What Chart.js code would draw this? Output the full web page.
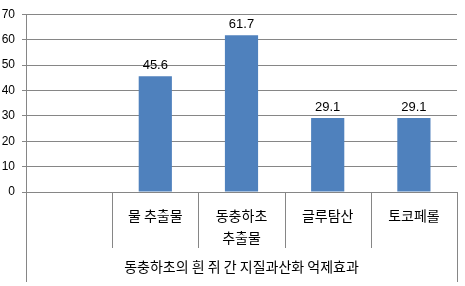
<!DOCTYPE html>
<html>
<head>
<meta charset="utf-8">
<script src="https://cdn.jsdelivr.net/npm/chart.js@4.4.0/dist/chart.umd.min.js"></script>
<style>
  html, body { margin: 0; padding: 0; background: #fff; }
  #wrap { width: 465px; height: 286px; }
</style>
</head>
<body>
<div id="wrap"><canvas id="grafico" width="465" height="286"></canvas></div>
<script>
// dados do gráfico
const categorias = ['', '물 추출물', ['동충하초', '추출물'], '글루탐산', '토코페롤'];
const valores = [null, 45.6, 61.7, 29.1, 29.1];
const rotulosValores = ['', '45.6', '61.7', '29.1', '29.1'];
const tituloGrupo = '동충하초의 흰 쥐 간 지질과산화 억제효과';
const yMin = 0;
const yMax = 70;
const yPasso = 10;

const corBarra = '#4F81BD';
const corLinha = '#868686';
const fonteKR = "'Noto Sans CJK KR', 'Noto Sans', sans-serif";
const fonteNum = "'Liberation Sans', Arial, sans-serif";

// linhas de divisão das categorias, título do grupo e rótulos dos valores
const extrasPlugin = {
  id: 'extras',
  afterDraw(chart) {
    const ctx = chart.ctx;
    const xs = chart.scales.x;
    const area = chart.chartArea;
    const n = categorias.length;

    ctx.save();
    ctx.strokeStyle = corLinha;
    ctx.lineWidth = 1;
    for (let i = 0; i <= n; i++) {
      const x = Math.round(xs.getPixelForValue(i - 0.5)) + 0.5;
      const fim = (i === 0 || i === n) ? area.bottom + 90 : area.bottom + 56;
      ctx.beginPath();
      ctx.moveTo(x, area.bottom);
      ctx.lineTo(x, fim);
      ctx.stroke();
    }

    ctx.fillStyle = '#000';
    ctx.font = '14px ' + fonteKR;
    ctx.textAlign = 'center';
    ctx.textBaseline = 'middle';
    ctx.fillText(tituloGrupo, (area.left + area.right) / 2, area.bottom + 75);

    ctx.font = '13px ' + fonteNum;
    ctx.textBaseline = 'bottom';
    chart.getDatasetMeta(0).data.forEach((bar, i) => {
      if (valores[i] == null) return;
      ctx.fillText(rotulosValores[i], bar.x, bar.y - 4);
    });
    ctx.restore();
  }
};

const chart = new Chart(document.getElementById('grafico'), {
  type: 'bar',
  data: {
    labels: categorias,
    datasets: [{
      data: valores,
      backgroundColor: corBarra,
      borderWidth: 0,
      categoryPercentage: 1,
      barPercentage: 0.385
    }]
  },
  options: {
    responsive: false,
    devicePixelRatio: 1,
    animation: false,
    layout: { padding: { top: 14, right: 8, left: 0, bottom: 0 } },
    plugins: {
      legend: { display: false },
      tooltip: { enabled: false }
    },
    scales: {
      x: {
        offset: true,
        grid: { display: false, drawTicks: false },
        border: { display: true, color: corLinha },
        ticks: {
          color: '#000',
          padding: 12,
          maxRotation: 0,
          autoSkip: false,
          font: { family: fonteKR, size: 14, lineHeight: 1.6 }
        },
        afterFit(s) { s.height = 94; }
      },
      y: {
        min: yMin,
        max: yMax,
        grid: { color: corLinha, tickLength: 4 },
        border: { display: true, color: corLinha },
        ticks: {
          stepSize: yPasso,
          color: '#000',
          padding: 7,
          font: { family: fonteNum, size: 12 }
        },
        afterFit(s) { s.width = 26; }
      }
    }
  },
  plugins: [extrasPlugin]
});
</script>
</body>
</html>
